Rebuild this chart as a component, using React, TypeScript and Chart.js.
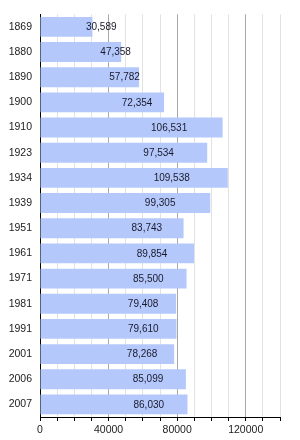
import React, { useEffect, useRef } from "react";
import { Chart, registerables } from "chart.js";

Chart.register(...registerables);

const years = ["1869", "1880", "1890", "1900", "1910", "1923", "1934", "1939", "1951", "1961", "1971", "1981", "1991", "2001", "2006", "2007"];
const population = [30589, 47358, 57782, 72354, 106531, 97534, 109538, 99305, 83743, 89854, 85500, 79408, 79610, 78268, 85099, 86030];
const xLabelValues = [0, 40000, 80000, 120000];

const FONT = "'Liberation Sans', Arial, sans-serif";

const valueLabels = {
  id: "valueLabels",
  afterDatasetsDraw(chart: any) {
    const ctx = chart.ctx;
    const meta = chart.getDatasetMeta(0);
    ctx.save();
    ctx.font = `10px ${FONT}`;
    ctx.fillStyle = "#1a1a2a";
    ctx.textAlign = "left";
    ctx.textBaseline = "middle";
    meta.data.forEach((bar: any, i: number) => {
      const v = population[i];
      const cx = (bar.base + bar.x) / 2 + 19.5;
      ctx.fillText(v.toLocaleString("en-US"), cx, bar.y + 0.5);
    });
    ctx.restore();
  },
};

export default function App() {
  const ref = useRef<HTMLCanvasElement>(null);
  useEffect(() => {
    if (!ref.current) return;
    const chart = new Chart(ref.current, {
      type: "bar",
      data: {
        labels: years,
        datasets: [
          {
            data: population,
            backgroundColor: "#b4c8fc",
            borderWidth: 0,
            categoryPercentage: 1,
            barPercentage: 0.79,
          },
        ],
      },
      options: {
        indexAxis: "y",
        animation: false,
        responsive: false,
        maintainAspectRatio: false,
        layout: { padding: { top: 8, right: 20, left: 0, bottom: 0 } },
        plugins: { legend: { display: false }, tooltip: { enabled: false } },
        scales: {
          x: {
            min: 0,
            max: 140000,
            afterFit: (s: any) => {
              s.height = 23;
            },
            ticks: {
              stepSize: 10000,
              autoSkip: false,
              maxRotation: 0,
              padding: 3,
              color: "#222",
              font: { family: FONT, size: 10.5 },
              callback: (v: any) => (xLabelValues.includes(Number(v)) ? String(v) : ""),
            },
            grid: {
              color: (c: any) =>
                c.tick && c.tick.value !== 0 && c.tick.value % 40000 === 0 ? "#a8a8a8" : "#e2e2e2",
              tickColor: "#000",
              tickLength: 4,
              lineWidth: 1,
            },
            border: { display: true, color: "#000", width: 1 },
          },
          y: {
            afterFit: (s: any) => {
              s.width = 40;
            },
            ticks: {
              color: "#222",
              padding: 8,
              font: { family: FONT, size: 10.5 },
            },
            grid: { display: false, drawTicks: false },
            border: { display: true, color: "#000", width: 1 },
          },
        },
      },
      plugins: [valueLabels],
    });
    return () => chart.destroy();
  }, []);
  return (
    <div style={{ position: "absolute", left: 0, top: 0, width: 300, height: 440, background: "#fff" }}>
      <canvas ref={ref} width={300} height={440} style={{ display: "block", width: 300, height: 440 }} />
    </div>
  );
}
